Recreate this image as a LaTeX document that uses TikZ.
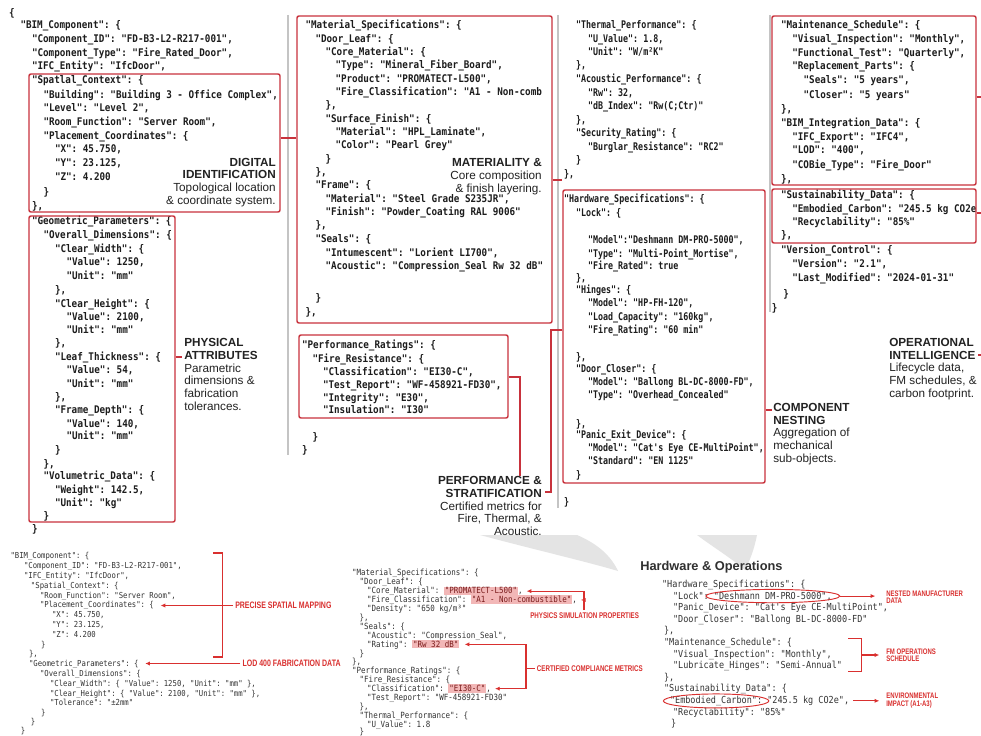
\documentclass[tikz,border=0pt]{standalone}
\usepackage{fontspec}
\usepackage{graphicx}
\setmainfont{Liberation Sans}
\setmonofont{DejaVu Sans Mono}[FakeStretch=0.88]
\newfontfamily\condsans{Liberation Sans}[FakeStretch=0.75]
\usetikzlibrary{arrows.meta,shapes.geometric,fit,calc}

\definecolor{ink}{HTML}{1C1C1C}
\definecolor{softink}{HTML}{333333}
\definecolor{lblink}{HTML}{222222}
\definecolor{boxred}{HTML}{C8323C}
\definecolor{annred}{HTML}{D9302F}
\definecolor{sepgray}{HTML}{C4C4C4}
\definecolor{hlpink}{HTML}{F2B7B7}
\definecolor{hlink}{HTML}{7A1C1C}
\definecolor{swoosh}{HTML}{E4E4E4}
\definecolor{headgray}{HTML}{303030}

% one line of code text, placed by the visual centre of the line
\newcounter{cln}
\newcommand\codeline[4]{\stepcounter{cln}\edef\clname{cl\arabic{cln}}\node[#1] (\clname) at (#2,#3) {#4};}
\newcommand\codelineN[5]{\node[#1] (#2) at (#3,#4) {#5};}
% columns of the upper listing: indent level, y, text
\newcommand\colA[3]{\codeline{codetop}{9+#1*11.5}{#2}{#3}}
\newcommand\colB[3]{\codeline{codetop}{305.5+#1*10}{#2}{#3}}
\newcommand\colP[3]{\codeline{codetop}{302+#1*10.5}{#2}{#3}}
\newcommand\colC[3]{\codeline{codetop}{564+#1*12}{#2}{\scalebox{0.9}[1]{#3}}}
\newcommand\colD[3]{\codeline{codetop}{781+#1*11.3}{#2}{#3}}
% highlighted value
\newcommand\hlt[1]{{\setlength{\fboxsep}{0.7pt}\colorbox{hlpink}{\textcolor{hlink}{#1}}}}

\tikzset{
  codetopF/.style={anchor=base west, inner sep=0pt, outer sep=0pt, text=ink,
    font=\ttfamily\bfseries\fontsize{7.9pt}{9pt}\selectfont},
  codetop/.style={codetopF, yshift=-2.8pt},
  codeblF/.style={anchor=base west, inner sep=0pt, outer sep=0pt, text=softink,
    font=\ttfamily\fontsize{6.2pt}{7pt}\selectfont},
  codebl/.style={codeblF, yshift=-2.1pt},
  codebmF/.style={anchor=base west, inner sep=0pt, outer sep=0pt, text=softink,
    font=\ttfamily\fontsize{6.4pt}{7pt}\selectfont},
  codebm/.style={codebmF, yshift=-2.0pt},
  codebrF/.style={anchor=base west, inner sep=0pt, outer sep=0pt, text=softink,
    font=\ttfamily\fontsize{7.25pt}{8.5pt}\selectfont},
  codebr/.style={codebrF, yshift=-2.6pt},
  redbox/.style={draw=boxred, line width=1.1pt, rounded corners=1.5pt, inner sep=0pt},
  conn/.style={draw=boxred, line width=1pt},
  sepline/.style={draw=sepgray, line width=0.8pt},
  lbl/.style={inner sep=0pt, text=lblink, font=\fontsize{8.8pt}{9.6pt}\selectfont},
  annA/.style={inner sep=0pt, text=annred, font=\condsans\bfseries\fontsize{7pt}{8pt}\selectfont},
  annB/.style={inner sep=0pt, text=annred, font=\condsans\bfseries\fontsize{6.2pt}{7pt}\selectfont},
  annC/.style={inner sep=0pt, text=annred, align=left, font=\condsans\bfseries\fontsize{6pt}{5.6pt}\selectfont},
  annline/.style={draw=annred, line width=0.8pt},
  rarrow/.style={annline, -{Latex[length=3.6pt,width=3.2pt]}},
  oval/.style={ellipse, draw=annred, line width=0.7pt, inner sep=0pt},
}

\begin{document}
\begin{tikzpicture}[x=0.75pt, y=-0.75pt]
\useasboundingbox (0,0) rectangle (981,735);
\fill[white] (0,0) rectangle (981,735);

% faint brush strokes behind the lower listings
\fill[swoosh] (480,535) -- (577,535) .. controls (598,544) and (611,556) .. (618,571)
   .. controls (588,562) and (532,549) .. (480,535) -- cycle;
\fill[swoosh] (697,535) -- (757,535) .. controls (754,550) and (750,560) .. (745,570)
   .. controls (731,558) and (713,547) .. (697,535) -- cycle;

% column separators
\draw[sepline] (288,15) -- (288,455);
\draw[sepline] (558,15) -- (558,508);
\draw[sepline] (770,15) -- (770,312);

% ---------------- upper listing, column 1 ----------------
\colA{0}{13}{\{}
\colA{1}{25}{"BIM\_Component": \{}
\colA{2}{39}{"Component\_ID": "FD-B3-L2-R217-001",}
\colA{2}{52.7}{"Component\_Type": "Fire\_Rated\_Door",}
\colA{2}{66}{"IFC\_Entity": "IfcDoor",}
\colA{2}{80}{"Spatlal\_Context": \{}
\colA{3}{94.3}{"Building": "Building 3 - Office Complex",}
\colA{3}{108}{"Level": "Level 2",}
\colA{3}{121.7}{"Room\_Function": "Server Room",}
\colA{3}{135.3}{"Placement\_Coordinates": \{}
\colA{4}{149}{"X": 45.750,}
\colA{4}{162.7}{"Y": 23.125,}
\colA{4}{176.7}{"Z": 4.200}
\colA{3}{191.3}{\}}
\colA{2}{206}{\},}
\colA{2}{220.7}{"Geometric\_Parameters": \{}
\colA{3}{234.3}{"Overall\_Dimensions": \{}
\colA{4}{248.3}{"Clear\_Width": \{}
\colA{5}{262}{"Value": 1250,}
\colA{5}{275.7}{"Unit": "mm"}
\colA{4}{290}{\},}
\colA{4}{303.3}{"Clear\_Height": \{}
\colA{5}{316.7}{"Value": 2100,}
\colA{5}{330}{"Unit": "mm"}
\colA{4}{343}{\},}
\colA{4}{356.7}{"Leaf\_Thickness": \{}
\colA{5}{370}{"Value": 54,}
\colA{5}{383.3}{"Unit": "mm"}
\colA{4}{396.7}{\},}
\colA{4}{410}{"Frame\_Depth": \{}
\colA{5}{423.3}{"Value": 140,}
\colA{5}{436}{"Unit": "mm"}
\colA{4}{449.3}{\}}
\colA{3}{463.3}{\},}
\colA{3}{476}{"Volumetric\_Data": \{}
\colA{4}{489.3}{"Weight": 142.5,}
\colA{4}{502.7}{"Unit": "kg"}
\colA{3}{516}{\}}
\colA{2}{528.3}{\}}

% ---------------- column 2 ----------------
\colB{0}{25}{"Material\_Specifications": \{}
\colB{1}{38.3}{"Door\_Leaf": \{}
\colB{2}{51.7}{"Core\_Material": \{}
\colB{3}{65}{"Type": "Mineral\_Fiber\_Board",}
\colB{3}{78.3}{"Product": "PROMATECT-L500",}
\colB{3}{91.7}{"Fire\_Classification": "A1 - Non-comb}
\colB{2}{105}{\},}
\colB{2}{118.3}{"Surface\_Finish": \{}
\colB{3}{131.7}{"Material": "HPL\_Laminate",}
\colB{3}{145}{"Color": "Pearl Grey"}
\colB{2}{158.3}{\}}
\colB{1}{171.7}{\},}
\colB{1}{185}{"Frame": \{}
\colB{2}{198.3}{"Material": "Steel Grade S235JR",}
\colB{2}{211.7}{"Finish": "Powder\_Coating RAL 9006"}
\colB{1}{225}{\},}
\colB{1}{238.3}{"Seals": \{}
\colB{2}{252.3}{"Intumescent": "Lorient LI700",}
\colB{2}{265.7}{"Acoustic": "Compression\_Seal Rw 32 dB"}
\colB{1}{298}{\}}
\colB{0}{312}{\},}

\colP{0}{345}{"Performance\_Ratings": \{}
\colP{1}{358.3}{"Fire\_Resistance": \{}
\colP{2}{371.7}{"Classification": "EI30-C",}
\colP{2}{385}{"Test\_Report": "WF-458921-FD30",}
\colP{2}{397.7}{"Integrity": "E30",}
\colP{2}{410}{"Insulation": "I30"}
\colP{1}{436.7}{\}}
\colP{0}{450}{\}}

% ---------------- column 3 ----------------
\colC{1}{25}{"Thermal\_Performance": \{}
\colC{2}{38.3}{"U\_Value": 1.8,}
\colC{2}{51.7}{"Unit": "W/m²K"}
\colC{1}{65}{\},}
\colC{1}{79}{"Acoustic\_Performance": \{}
\colC{2}{92.3}{"Rw": 32,}
\colC{2}{106}{"dB\_Index": "Rw(C;Ctr)"}
\colC{1}{119.3}{\},}
\colC{1}{133}{"Security\_Rating": \{}
\colC{2}{146.7}{"Burglar\_Resistance": "RC2"}
\colC{1}{160}{\}}
\colC{0}{174}{\},}
\colC{0}{199}{"Hardware\_Specifications": \{}
\colC{1}{212.7}{"Lock": \{}
\colC{2}{240}{"Model":"Deshmann DM-PRO-5000",}
\colC{2}{253.3}{"Type": "Multi-Point\_Mortise",}
\colC{2}{266}{"Fire\_Rated": true}
\colC{1}{277.5}{\},}
\colC{1}{290}{"Hinges": \{}
\colC{2}{303}{"Model": "HP-FH-120",}
\colC{2}{316.7}{"Load\_Capacity": "160kg",}
\colC{2}{329.5}{"Fire\_Rating": "60 min"}
\colC{1}{356.7}{\},}
\colC{1}{368.5}{"Door\_Closer": \{}
\colC{2}{381.7}{"Model": "Ballong BL-DC-8000-FD",}
\colC{2}{395}{"Type": "Overhead\_Concealed"}
\colC{1}{423.3}{\},}
\colC{1}{434.5}{"Panic\_Exit\_Device": \{}
\colC{2}{447.7}{"Model": "Cat's Eye CE-MultiPoint",}
\colC{2}{461}{"Standard": "EN 1125"}
\colC{1}{475}{\}}
\colC{0}{501.7}{\}}

% ---------------- column 4 ----------------
\colD{0}{25}{"Maintenance\_Schedule": \{}
\colD{1}{38.3}{"Visual\_Inspection": "Monthly",}
\colD{1}{52.3}{"Functional\_Test": "Quarterly",}
\colD{1}{66}{"Replacement\_Parts": \{}
\colD{2}{80}{"Seals": "5 years",}
\colD{2}{94.3}{"Closer": "5 years"}
\colD{0}{108.3}{\},}
\colD{0}{122.7}{"BIM\_Integration\_Data": \{}
\colD{1}{136.7}{"IFC\_Export": "IFC4",}
\colD{1}{150}{"LOD": "400",}
\colD{1}{164.3}{"COBie\_Type": "Fire\_Door"}
\colD{0}{178.3}{\},}
\colD{0}{195}{"Sustainability\_Data": \{}
\colD{1}{208.3}{"Embodied\_Carbon": "245.5 kg CO2e}
\colD{1}{221.7}{"Recyclability": "85\%"}
\colD{0}{235}{\},}
\colD{0}{249.3}{"Version\_Control": \{}
\colD{1}{264}{"Version": "2.1",}
\colD{1}{278}{"Last\_Modified": "2024-01-31"}
\colD{0.2}{293.3}{\}}
\colD{-0.8}{307.7}{\}}

% ---------------- framed groups ----------------
\node[redbox, fit={(29,74) (280,212)}] (spatbox) {};
\node[redbox, fit={(29,216) (175,522)}] (geombox) {};
\node[redbox, fit={(297,16) (552,323)}] (matbox) {};
\node[redbox, fit={(299,335) (508,418)}] (perfbox) {};
\node[redbox, fit={(563,190) (765,483)}] (hwbox) {};
\node[redbox, fit={(772,16) (976,185)}] (maintbox) {};
\node[redbox, fit={(772,189) (976,243)}] (sustbox) {};

% ---------------- captions ----------------
\node[lbl, anchor=east, align=right] (digitlbl) at (276,182.5)
  {\textbf{DIGITAL}\\\textbf{IDENTIFICATION}\\Topological location\\\& coordinate system.};
\node[lbl, anchor=west, align=left] (physlbl) at (184,374.5)
  {\textbf{PHYSICAL}\\\textbf{ATTRIBUTES}\\Parametric\\dimensions \&\\fabrication\\tolerances.};
\node[lbl, anchor=east, align=right] (matlbl) at (542,176.5)
  {\textbf{MATERIALITY \&}\\Core composition\\\& finish layering.};
\node[lbl, anchor=east, align=right] (perflbl) at (542,506)
  {\textbf{PERFORMANCE \&}\\\textbf{STRATIFICATION}\\Certified metrics for\\Fire, Thermal, \&\\Acoustic.};
\node[lbl, anchor=west, align=left] (nestlbl) at (773,434)
  {\textbf{COMPONENT}\\\textbf{NESTING}\\Aggregation of\\mechanical\\sub-objects.};
\node[lbl, anchor=west, align=left] (operlbl) at (889,369)
  {\textbf{OPERATIONAL}\\\textbf{INTELLIGENCE}\\Lifecycle data,\\FM schedules, \&\\carbon footprint.};

% ---------------- connectors ----------------
\coordinate (ySM) at (0,138);
\coordinate (yMH) at (0,180);
\coordinate (yGP) at (0,357);
\coordinate (yPF) at (0,377);
\coordinate (xPF) at (520,0);
\coordinate (yHS) at (0,330);
\coordinate (xHS) at (551,0);
\coordinate (yST) at (0,492);
\coordinate (yCN) at (0,410);
\coordinate (yMT) at (0,97);
\coordinate (ySU) at (0,213);
\coordinate (yOP) at (0,355);
\coordinate (rim) at (981,0);
\coordinate (physIn) at ([xshift=-1.5pt]physlbl.west);
\coordinate (perfIn) at ([xshift=2pt]perflbl.east);
\coordinate (nestIn) at ([xshift=-1pt]nestlbl.west);
\coordinate (operOut) at ([xshift=1pt]operlbl.east);

\draw[conn] (spatbox.east |- ySM) -- (matbox.west |- ySM);
\draw[conn] (matbox.east |- yMH) -- (hwbox.west |- yMH);
\draw[conn] (geombox.east |- yGP) -- (physIn |- yGP);
\draw[conn] (perfbox.east |- yPF) -| (xPF |- perflbl.north);
\draw[conn] (hwbox.west |- yHS) -| (xHS |- yST) -- (perfIn |- yST);
\draw[conn] (hwbox.east |- yCN) -- (nestIn |- yCN);
\draw[conn] (maintbox.east |- yMT) -- (rim |- yMT);
\draw[conn] (sustbox.east |- ySU) -- (rim |- ySU);
\draw[conn] (operOut |- yOP) -- (rim |- yOP);

% ================= lower left listing =================
\codeline{codebl}{10.5}{556}{"BIM\_Component": \{}
\codeline{codebl}{24}{565.8}{"Component\_ID": "FD-B3-L2-R217-001",}
\codeline{codebl}{24}{575.6}{"IFC\_Entity": "IfcDoor",}
\codeline{codebl}{31}{585.4}{"Spatial\_Context": \{}
\codeline{codebl}{40}{595.2}{"Room\_Function": "Server Room",}
\codelineN{codebl}{placeln}{40}{605}{"Placement\_Coordinates": \{}
\codeline{codebl}{52}{614.8}{"X": 45.750,}
\codeline{codebl}{52}{624.6}{"Y": 23.125,}
\codeline{codebl}{52}{634.4}{"Z": 4.200}
\codeline{codebl}{41}{644.2}{\}}
\codeline{codebl}{29}{654}{\},}
\codelineN{codebl}{geomln}{29}{663.8}{"Geometric\_Parameters": \{}
\codeline{codebl}{40}{673.6}{"Overall\_Dimensions": \{}
\codeline{codebl}{50}{683.4}{"Clear\_Width": \{ "Value": 1250, "Unit": "mm" \},}
\codeline{codebl}{50}{693.2}{"Clear\_Height": \{ "Value": 2100, "Unit": "mm" \},}
\codeline{codebl}{50}{703}{"Tolerance": "±2mm"}
\codeline{codebl}{41}{712.6}{\}}
\codeline{codebl}{31}{721.6}{\}}
\codeline{codebl}{21}{730.4}{\}}

\draw[annline] (213,553) -- (222.7,553) -- (222.7,657) -- (213,657);
\node[annA, anchor=west] (maplbl) at (235,605.5) {PRECISE SPATIAL MAPPING};
\node[annA, anchor=west] (lodlbl) at (242.3,663.5) {LOD 400 FABRICATION DATA};
\coordinate (tipMap) at ([xshift=5pt]placeln.east);
\coordinate (tipLod) at ([xshift=5pt]geomln.east);
\draw[rarrow] ([xshift=-1.5pt]maplbl.west) -- (tipMap |- maplbl.west);
\draw[rarrow] ([xshift=-1.5pt]lodlbl.west) -- (tipLod |- lodlbl.west);

% ================= lower middle listing =================
\codeline{codebm}{352}{573.3}{"Material\_Specifications": \{}
\codeline{codebm}{359.7}{582.2}{"Door\_Leaf": \{}
\codelineN{codebm}{coreln}{367}{591.1}{"Core\_Material": \hlt{"PROMATECT-L500"},}
\codelineN{codebm}{fireln}{367}{600}{"Fire\_Classification": \hlt{"A1 - Non-combustible"},}
\codeline{codebm}{367}{608.9}{"Density": "650 kg/m³"}
\codeline{codebm}{359.7}{617.8}{\},}
\codeline{codebm}{359.7}{626.7}{"Seals": \{}
\codeline{codebm}{367}{635.6}{"Acoustic": "Compression\_Seal",}
\codelineN{codebm}{ratingln}{367}{644.5}{"Rating": \hlt{"Rw 32 dB"}}
\codeline{codebm}{359.7}{653.4}{\}}
\codeline{codebm}{352}{662.3}{\},}
\codeline{codebm}{352}{671.2}{"Performance\_Ratings": \{}
\codeline{codebm}{359.7}{680.1}{"Fire\_Resistance": \{}
\codelineN{codebm}{classln}{367}{689}{"Classification": \hlt{"EI30-C"},}
\codeline{codebm}{367}{697.9}{"Test\_Report": "WF-458921-FD30"}
\codeline{codebm}{359.7}{706.8}{\},}
\codeline{codebm}{359.7}{715.7}{"Thermal\_Performance": \{}
\codeline{codebm}{367}{724.6}{"U\_Value": 1.8}
\codeline{codebm}{359.7}{732}{\}}

\node[annB, anchor=west] (simlbl) at (530,616) {PHYSICS SIMULATION PROPERTIES};
\node[annB, anchor=west] (certlbl) at (536.7,668.3) {CERTIFIED COMPLIANCE METRICS};
\coordinate (simx) at (584,0);
\coordinate (certx) at (526,0);
\coordinate (tipCore) at ([xshift=3pt]coreln.east);
\coordinate (tipFire) at ([xshift=3pt]fireln.east);
\coordinate (tipRate) at ([xshift=4pt]ratingln.east);
\coordinate (tipClass) at ([xshift=3pt]classln.east);
\draw[rarrow] ([yshift=2pt]simx |- simlbl.north) |- (tipCore);
\draw[rarrow] (simx |- tipFire) -- (tipFire);
\draw[rarrow] (certx |- certlbl.west) |- (tipRate);
\draw[rarrow] (certx |- certlbl.west) |- (tipClass);
\draw[annline] (certx |- certlbl.west) -- ([xshift=-1.5pt]certlbl.west);

% ================= lower right listing =================
\node[anchor=west, inner sep=0pt, text=headgray, font=\bfseries\fontsize{9.6pt}{10pt}\selectfont]
  (hwhead) at (640,567.5) {Hardware \& Operations};
\codeline{codebr}{662}{584}{"Hardware\_Specifications": \{}
\codelineN{codebr}{lockkey}{673}{595.6}{"Lock":}
\node[codebrF] (lockval) at ([xshift=3.8pt]lockkey.base east) {"Deshmann DM-PRO-5000",};
\codeline{codebr}{673}{607.2}{"Panic\_Device": "Cat's Eye CE-MultiPoint",}
\codeline{codebr}{673}{618.8}{"Door\_Closer": "Ballong BL-DC-8000-FD"}
\codeline{codebr}{664}{630.4}{\},}
\codeline{codebr}{664}{642}{"Maintenance\_Schedule": \{}
\codeline{codebr}{673}{653.6}{"Visual\_Inspection": "Monthly",}
\codeline{codebr}{673}{665.2}{"Lubricate\_Hinges": "Semi-Annual"}
\codeline{codebr}{664}{676.8}{\},}
\codeline{codebr}{664}{688.4}{"Sustainability\_Data": \{}
\codelineN{codebr}{envkey}{670}{700}{"Embodied\_Carbon":}
\node[codebrF] (envval) at ([xshift=3.8pt]envkey.base east) {"245.5 kg CO2e",};
\codeline{codebr}{673}{711.6}{"Recyclability": "85\%"}
\codeline{codebr}{671}{723.2}{\}}

\path let \p1=($(lockval.east)-(lockval.west)$) in
  node[oval, minimum width=\x1+12pt, minimum height=10pt] (lockoval) at (lockval.center) {};
\path let \p1=($(envkey.east)-(envkey.west)$) in
  node[oval, minimum width=\x1+10pt, minimum height=10.5pt] (envoval) at (envkey.center) {};

\node[annC, anchor=west] (nestedlbl) at (886,597) {NESTED MANUFACTURER\\DATA};
\node[annC, anchor=west] (fmlbl) at (886,655) {FM OPERATIONS\\SCHEDULE};
\node[annC, anchor=west] (envlbl) at (886,700.5) {ENVIRONMENTAL\\IMPACT (A1-A3)};

\coordinate (tipNest) at ([xshift=-8pt]nestedlbl.west);
\coordinate (tipFm) at ([xshift=-5pt]fmlbl.west);
\coordinate (tipEnv) at ([xshift=-5pt]envlbl.west);
\draw[rarrow] (lockoval.east) -- (tipNest |- lockoval.east);
\draw[annline] (848.3,638.3) -- (861.7,638.3) -- (861.7,671.7) -- (848.3,671.7);
\coordinate (fmbr) at (861.7,655);
\draw[rarrow] (fmbr) -- (tipFm |- fmbr);
\draw[rarrow] ([xshift=3pt]envval.east) -- (tipEnv |- envval.east);
\end{tikzpicture}
\end{document}
